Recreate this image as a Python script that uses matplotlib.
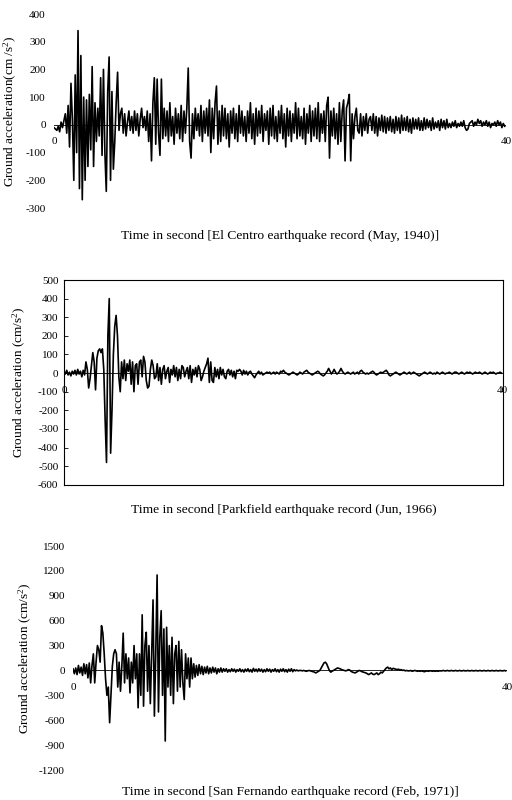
import numpy as np
import matplotlib
matplotlib.use("Agg")
import matplotlib.pyplot as plt

plt.rcParams['font.family'] = ['Liberation Serif', 'DejaVu Serif']
plt.rcParams['mathtext.fontset'] = 'custom'
plt.rcParams['mathtext.rm'] = 'Liberation Serif'
plt.rcParams['mathtext.it'] = 'Liberation Serif:italic'

# sampling step of the read-off records (s)
dt = 0.125

# El Centro (May, 1940), cm/s^2, 8 samples per second
elcentro = [
    -10, -15, -20, -5, -25, 10, -10, 15,
    40, -30, 70, -80, 150, 20, -200, 180,
    -100, 340, -230, 250, -270, 100, -200, 90,
    -150, 110, -90, 210, -150, 80, -60, 60,
    -40, 170, -110, 200, -100, -240, 120, 245,
    -200, 120, -160, -60, 80, 190, -20, 40,
    60, -30, 40, -40, 10, 50, -20, 30,
    -30, 50, -20, 40, -40, 20, 60, -10,
    30, -20, 50, -60, 40, -130, 80, 170,
    -70, 165, -30, -110, 165, -50, 60, -40,
    50, -60, 80, -40, 30, -70, 60, -30,
    40, -50, 70, -60, 50, -30, 60, 205,
    -60, -120, 40, -50, 60, -20, 40, -40,
    70, -60, 50, -30, 60, -40, 90, -100,
    60, -50, 80, 140, -70, 50, -60, 70,
    -40, 60, -50, 40, -80, 50, -30, 60,
    -50, 40, -60, 70, -30, 50, -40, 30,
    -60, 50, -30, 80, -50, 40, -70, 60,
    -40, 50, -30, 70, -60, 40, -20, 50,
    -70, 60, -40, 70, -50, 30, -60, 50,
    -30, 70, -50, 40, -80, 60, -40, 50,
    -60, 40, -30, 80, -50, 60, -40, 30,
    -50, 60, -70, 40, -30, 70, -60, 50,
    -40, 60, -50, 80, -60, 40, -30, 50,
    -60, 70, 100, -120, 50, -40, 60, -50,
    40, -70, 80, -60, 50, 90, -130, 60,
    80, 110, -130, 40, -50, 30, 60, -20,
    -30, 40, -40, 30, -20, 40, -30, 20,
    30, -20, 40, -30, 30, -40, 25, -20,
    35, -25, 30, -30, 25, -20, 30, -25,
    20, -30, 30, -20, 25, -30, 35, -20,
    25, -20, 30, -25, 20, -30, 25, -15,
    20, -15, 25, -20, 15, -20, 25, -15,
    20, -10, 15, -20, 25, -15, 10, -10,
    15, -20, 20, -10, 15, -15, 20, -10,
    5, -10, 10, -5, 15, -10, 5, -5,
    10, -5, 15, -10, -20, -15, 5, 10,
    15, -5, 10, 0, 20, 5, 15, -5,
    10, 0, 15, -5, 10, -10, 5, 0,
    10, -5, 15, 0, 10, -10, 5, -5,
]

# Parkfield (Jun, 1966)
parkfield = [
    10, -5, 15, -10, 5, -15, 10, -5,
    15, -10, 20, -5, 10, -20, 15, -10,
    60, 20, -80, -30, 40, 110, 60, -90,
    80, 120, 130, 110, 130, 20, -250, -480,
    200, 400, -430, -200, 100, 250, 310, 200,
    -20, -100, 60, -30, 70, -40, 50, 10,
    70, -60, 60, -100, 40, 50, -60, 60,
    70, -20, 90, 60, -40, -80, -70, 20,
    70, 40, -30, -20, 50, -40, 30, -60,
    20, 40, -30, 10, 30, -50, 20, -10,
    40, -20, 30, -40, 20, -30, 40, 30,
    -20, 10, 30, -30, 40, -50, 20, -10,
    30, -20, 40, 20, -40, -20, 10, 30,
    50, 80, -50, 60, -40, -50, 30, -20,
    20, -30, 30, -10, 20, -20, -30, 10,
    20, -10, 15, -20, 10, -30, 15, 10,
    20, 10, -10, 15, -5, 10, -10, 5,
    10, -5, -15, -25, -10, 0, 10, -5,
    5, -10, -5, 0, 5, 0, 5, -5,
    0, 5, -5, 5, 0, -5, 10, 5,
    15, 5, 0, -5, -10, -5, 0, 5,
    0, -5, -10, -5, 5, 0, -5, 5,
    10, 15, 5, 0, -5, -10, -5, 0,
    5, 10, 5, -5, -10, -15, -10, 0,
    10, 25, 10, -5, 5, 20, 5, -5,
    0, 10, 25, 10, 0, -5, 0, 5,
    0, -5, 0, 5, -5, 0, 5, -5,
    10, 15, 5, 0, -5, 0, -5, 0,
    5, 10, 5, -5, -10, -5, 0, 5,
    0, 5, 10, 15, 5, -10, -15, -10,
    -5, 0, 5, 0, -5, -10, -5, 0,
    5, 0, -5, 0, 5, -5, 0, 5,
    0, -5, -10, -15, -10, -5, 0, 5,
    0, -5, 0, 5, 0, -5, 0, -5,
    5, 0, -5, 0, 5, 0, -5, 0,
    0, 5, 0, -5, 0, 5, 5, 0,
    -5, 0, 5, 0, -5, 0, 5, 0,
    5, 0, -5, 0, 5, 0, 0, 5,
    0, -5, 0, 5, 0, -5, 0, 5,
    0, 5, 0, -5, 0, 0, 5, 0,
]

# San Fernando (Feb, 1971)
sanfernando = [
    20, -40, 30, -50, 60, -30, 40, -60,
    80, -40, 70, -90, 90, -150, 60, 200,
    -150, 100, 300, 250, 100, 540, 450, 200,
    -100, -300, -200, -630, -300, 50, 200, 250,
    200, -200, 100, -250, 50, 450, -150, 200,
    -100, 150, -270, 100, -150, 300, -100, 200,
    -450, 200, -300, 670, -430, 300, 460, -250,
    300, -400, 200, 850, -550, 200, 1150, -500,
    400, 720, -300, 500, -850, 520, -200, 300,
    -300, 400, -400, 200, 300, -250, 350, -200,
    250, -150, -350, 200, -100, 150, -200, 150,
    -100, 80, -80, 60, -60, 70, -40, 50,
    -50, 40, -30, 50, -40, 30, -30, 40,
    -20, 30, -40, 20, -20, 30, -20, 20,
    -10, 20, -20, 10, -15, 20, -10, 15,
    -20, 10, -10, 20, -15, 10, -20, 15,
    -10, 20, -15, 10, -20, 25, -10, 15,
    -15, 20, -10, 15, -20, 10, -15, 20,
    -10, 15, -20, 10, -10, 20, -15, 10,
    -20, 15, -10, 20, -15, 10, -20, 15,
    -10, 20, -15, 10, -5, 5, -5, 0,
    0, -5, 0, -5, -10, -5, 0, -5,
    -10, -15, -20, -30, -20, -10, 0, 30,
    60, 90, 100, 80, 40, 0, -20, -10,
    0, 10, 20, 30, 25, 20, 10, 5,
    0, -5, 0, 10, 5, -10, -20, -25,
    -30, -20, -10, 0, -5, -15, -20, -25,
    -30, -40, -50, -40, -30, -45, -50, -40,
    -30, -50, -40, -20, -30, -10, 10, 30,
    40, 20, 30, 10, 25, 20, 15, 10,
    15, 5, 10, 0, 5, -5, 0, -5,
    -5, 0, -10, -5, 0, -5, -10, -5,
    -10, -5, -10, -15, -10, -5, -10, -5,
    -5, -10, -5, -10, -5, -10, -5, -5,
    -5, 0, -5, -5, 0, -5, -5, 0,
    -5, -5, 0, -5, -5, 0, -5, -5,
    0, -5, -5, 0, -5, -5, 0, -5,
    -5, 0, -5, -5, 0, -5, -5, 0,
    -5, -5, 0, -5, -5, 0, -5, -5,
    0, -5, -5, 0, -5, -5, 0, -5,
]

yticks1 = [-300, -200, -100, 0, 100, 200, 300, 400]
yticks2 = [-600, -500, -400, -300, -200, -100, 0, 100, 200, 300, 400, 500]
yticks3 = [-1200, -900, -600, -300, 0, 300, 600, 900, 1200, 1500]

ylabel1 = 'Ground acceleration(cm /s$^{2}$)'
ylabel2 = 'Ground acceleration (cm/s$^{2}$)'
xlabel1 = 'Time in second [El Centro earthquake record (May, 1940)]'
xlabel2 = 'Time in second [Parkfield earthquake record (Jun, 1966)'
xlabel3 = 'Time in second [San Fernando earthquake record (Feb, 1971)]'

fig = plt.figure(figsize=(5.12, 8), dpi=100)


def draw(rect, data, ylim, yticks, ylabel, xlabel, frame, zero_off, ylab_x, xlab_y):
    ax = fig.add_axes(rect)
    t = np.arange(len(data)) * dt
    ax.plot(t, data, color='black', lw=1.2)
    ax.axhline(0, color='black', lw=0.6)
    ax.set_xlim(0, 40)
    ax.set_ylim(*ylim)
    ax.set_yticks(yticks)
    ax.set_yticklabels([str(v) for v in yticks], fontsize=8)
    ax.set_xticks([])
    if frame:
        for s in ax.spines.values():
            s.set_linewidth(0.8)
        ax.tick_params(axis='y', direction='in', length=3, width=0.6, pad=4)
    else:
        for s in ax.spines.values():
            s.set_visible(False)
        ax.tick_params(axis='y', length=0, pad=6)
    # axis numbers sit just under the zero line
    ax.text(0, zero_off, '0', fontsize=8, ha='center', va='center')
    ax.text(40, zero_off, '40', fontsize=8, ha='center', va='center')
    ax.set_ylabel(ylabel, fontsize=9.5)
    ax.yaxis.set_label_coords(ylab_x, 0.5)
    ax.set_xlabel(xlabel, fontsize=9.7)
    ax.xaxis.set_label_coords(0.5, xlab_y)
    return ax


draw([0.1055, 0.74, 0.883, 0.2425], elcentro, (-300, 400), yticks1,
     ylabel1, xlabel1, False, -60, -0.078, -0.115)
draw([0.125, 0.394, 0.857, 0.256], parkfield, (-600, 500), yticks2,
     ylabel2, xlabel2, True, -95, -0.082, -0.095)
draw([0.1426, 0.0375, 0.8477, 0.28], sanfernando, (-1200, 1500), yticks3,
     ylabel2, xlabel3, False, -200, -0.09, -0.072)

fig.savefig('out.png', dpi=100)
